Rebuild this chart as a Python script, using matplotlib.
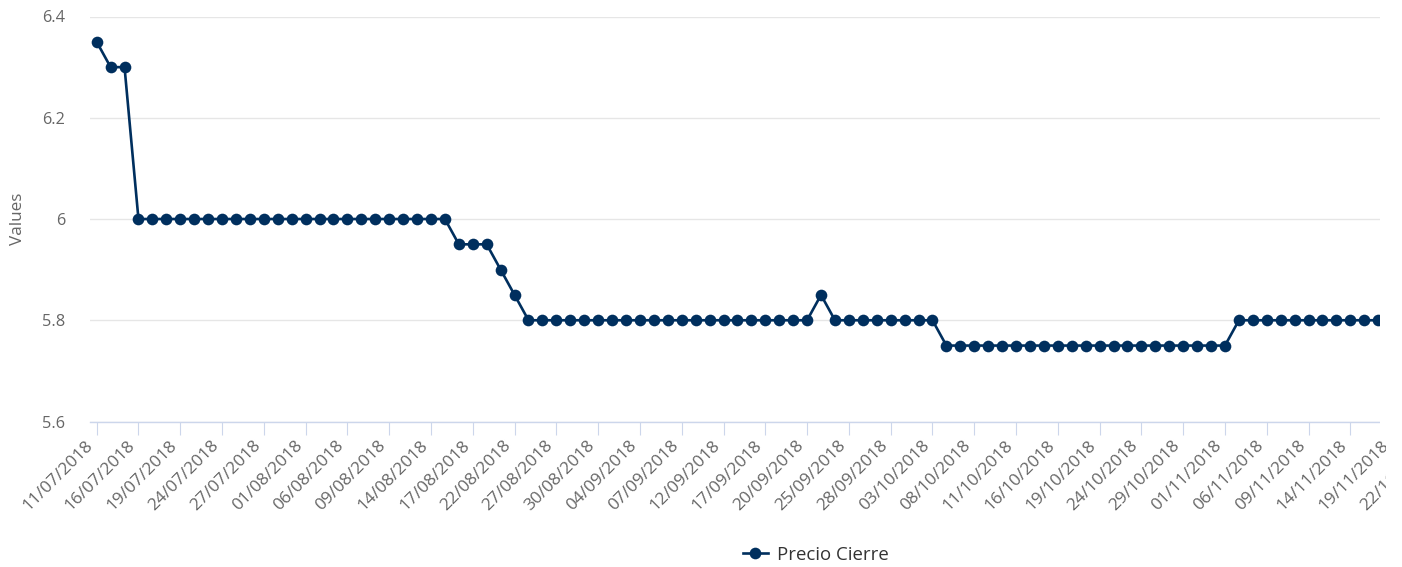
import matplotlib
matplotlib.use('Agg')
import matplotlib.pyplot as plt
from matplotlib.patches import Rectangle
from matplotlib.lines import Line2D

# ---------------- data ----------------
dates = [
    '11/07/2018', '12/07/2018', '13/07/2018', '16/07/2018', '17/07/2018', '18/07/2018',
    '19/07/2018', '20/07/2018', '23/07/2018', '24/07/2018', '25/07/2018', '26/07/2018',
    '27/07/2018', '30/07/2018', '31/07/2018',
    '01/08/2018', '02/08/2018', '03/08/2018', '06/08/2018', '07/08/2018', '08/08/2018',
    '09/08/2018', '10/08/2018', '13/08/2018', '14/08/2018', '15/08/2018', '16/08/2018',
    '17/08/2018', '20/08/2018', '21/08/2018', '22/08/2018', '23/08/2018', '24/08/2018',
    '27/08/2018', '28/08/2018', '29/08/2018', '30/08/2018', '31/08/2018',
    '03/09/2018', '04/09/2018', '05/09/2018', '06/09/2018', '07/09/2018', '10/09/2018',
    '11/09/2018', '12/09/2018', '13/09/2018', '14/09/2018', '17/09/2018', '18/09/2018',
    '19/09/2018', '20/09/2018', '21/09/2018', '24/09/2018', '25/09/2018', '26/09/2018',
    '27/09/2018', '28/09/2018',
    '01/10/2018', '02/10/2018', '03/10/2018', '04/10/2018', '05/10/2018', '08/10/2018',
    '09/10/2018', '10/10/2018', '11/10/2018', '12/10/2018', '15/10/2018', '16/10/2018',
    '17/10/2018', '18/10/2018', '19/10/2018', '22/10/2018', '23/10/2018', '24/10/2018',
    '25/10/2018', '26/10/2018', '29/10/2018', '30/10/2018', '31/10/2018',
    '01/11/2018', '02/11/2018', '05/11/2018', '06/11/2018', '07/11/2018', '08/11/2018',
    '09/11/2018', '12/11/2018', '13/11/2018', '14/11/2018', '15/11/2018', '16/11/2018',
    '19/11/2018', '20/11/2018', '21/11/2018', '22/11/2018',
]

# visible closing prices (the chart is cut off after 16/11/2018)
precio_cierre = [
    6.35, 6.30, 6.30,
    6.00, 6.00, 6.00, 6.00, 6.00, 6.00, 6.00, 6.00, 6.00, 6.00, 6.00, 6.00,
    6.00, 6.00, 6.00, 6.00, 6.00, 6.00, 6.00, 6.00, 6.00, 6.00, 6.00,
    5.95, 5.95, 5.95, 5.90, 5.85,
    5.80, 5.80, 5.80, 5.80, 5.80, 5.80, 5.80, 5.80, 5.80, 5.80, 5.80,
    5.80, 5.80, 5.80, 5.80, 5.80, 5.80, 5.80, 5.80, 5.80, 5.80,
    5.85,
    5.80, 5.80, 5.80, 5.80, 5.80, 5.80, 5.80, 5.80,
    5.75, 5.75, 5.75, 5.75, 5.75, 5.75, 5.75, 5.75, 5.75, 5.75, 5.75,
    5.75, 5.75, 5.75, 5.75, 5.75, 5.75, 5.75, 5.75, 5.75, 5.75,
    5.80, 5.80, 5.80, 5.80, 5.80, 5.80, 5.80, 5.80, 5.80, 5.80, 5.80,
]

y_ticks = [5.6, 5.8, 6.0, 6.2, 6.4]
y_tick_labels = ['5.6', '5.8', '6', '6.2', '6.4']
series_name = 'Precio Cierre'
y_title = 'Values'
label_step = 3

# ---------------- style ----------------
plt.rcParams['font.family'] = ['Open Sans', 'DejaVu Sans']
NAVY = '#002f5e'
GRID = '#e6e6e6'
AXIS = '#ccd6eb'
LABEL = '#666666'

W, H = 1402, 567
fig = plt.figure(figsize=(W / 100, H / 100), dpi=100)
fig.patch.set_facecolor('white')

left, right, top, bottom = 89.7, 1440.9, 16.5, 421.5
ax = fig.add_axes([left / W, 1 - bottom / H, (right - left) / W, (bottom - top) / H])

xs = list(range(len(precio_cierre)))
ax.plot(xs, precio_cierre, color=NAVY, lw=1.9, marker='o', ms=8.4,
        mfc=NAVY, mec=NAVY, mew=0, zorder=3)

ax.set_xlim(-0.5, len(dates) - 0.5)
ax.set_ylim(y_ticks[0], y_ticks[-1])
ax.set_yticks(y_ticks)
ax.set_yticklabels(y_tick_labels)
ax.grid(axis='y', color=GRID, lw=1)
ax.set_axisbelow(True)

tick_pos = list(range(0, len(dates), label_step))
ax.set_xticks(tick_pos)
ax.set_xticklabels([dates[i] for i in tick_pos], rotation=45, ha='right',
                   rotation_mode='default')

for s in ['top', 'right', 'left']:
    ax.spines[s].set_visible(False)
ax.spines['bottom'].set_color(AXIS)
ax.spines['bottom'].set_linewidth(1)

ax.tick_params(axis='y', length=0, pad=17.5, labelsize=11.8, labelcolor=LABEL)
ax.tick_params(axis='x', length=9.5, width=0.8, color=AXIS, pad=2,
               labelsize=12.4, labelcolor=LABEL)

fig.text(18 / W, 1 - 219 / H, y_title, rotation=90, ha='center', va='center',
         fontsize=12.3, color=LABEL)

handle = Line2D([], [], color=NAVY, lw=1.9, marker='o', ms=8.4, mfc=NAVY, mew=0)
fig.legend([handle], [series_name], loc='center',
           bbox_to_anchor=(816 / W, 1 - 555 / H), frameon=False,
           fontsize=13.4, handlelength=1.35, handletextpad=0.5,
           labelcolor='#333333')

# the original chart is clipped by its container at the right
fig.add_artist(Rectangle((1379.5 / W, 1 - 436 / H), (W - 1379.5) / W, 436 / H,
                         transform=fig.transFigure, fc='white', ec='none', zorder=10))
fig.add_artist(Rectangle((1386 / W, 0), (W - 1386) / W, 1 - 436 / H,
                         transform=fig.transFigure, fc='white', ec='none', zorder=10))

fig.savefig('out.png', dpi=100)
